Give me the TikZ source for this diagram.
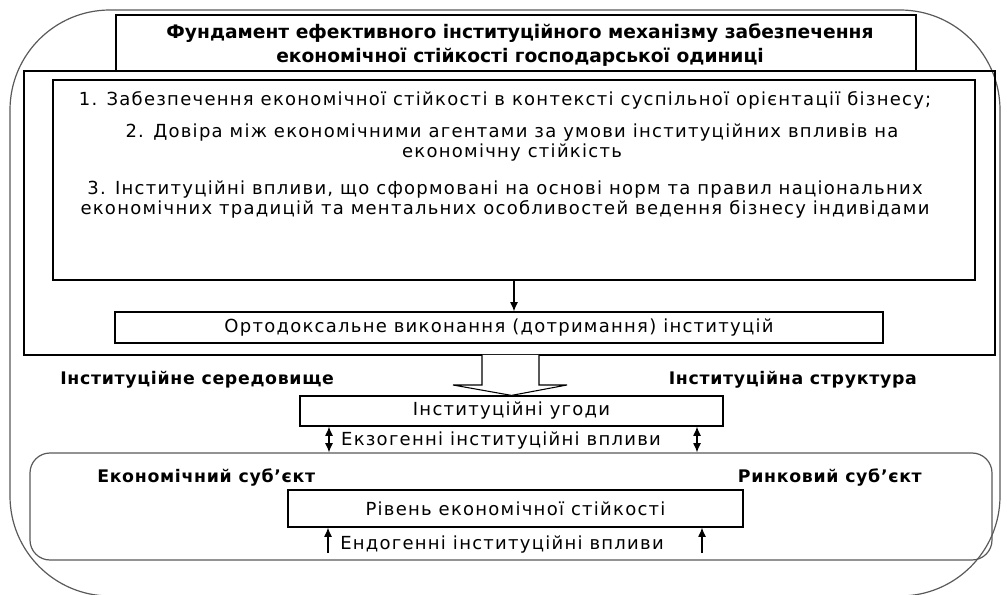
\documentclass[tikz,border=0pt]{standalone}
\usepackage{fontspec}
\setmainfont{DejaVu Sans}
\newfontfamily\spacedfont[LetterSpace=7]{DejaVu Sans}
\newfontfamily\boldspaced[LetterSpace=4]{DejaVu Sans}
\usetikzlibrary{arrows.meta,calc}
\begin{document}
\begin{tikzpicture}[x=0.75pt,y=-0.75pt,
  box/.style={draw=black,line width=0.9pt,inner sep=0pt,align=center},
  bodyf/.style={font=\spacedfont\fontsize{13.5}{15}\selectfont},
  txt/.style={inner sep=0pt,bodyf,align=center},
  lbl/.style={inner sep=0pt,font=\boldspaced\fontsize{13}{14}\selectfont\bfseries},
  arr/.style={line width=0.9pt,-{Latex[length=7pt,width=6pt]}},
  dbl/.style={line width=0.9pt,{Latex[length=7pt,width=6pt]}-{Latex[length=7pt,width=6pt]}},
  grayline/.style={draw=black!65,line width=0.9pt}]
\useasboundingbox (0,0) rectangle (1007,595);
\begin{scope}
\clip (0,0) rectangle (1007,595);
\draw[grayline,rounded corners=75pt] (10,10) rectangle (1000,596);
\end{scope}
% big box
\node[box,line width=1.3pt,minimum width=728.25pt,minimum height=213pt] (big) at (509.5,213) {};
% title box
\node[box,line width=1.1pt,fill=white,minimum width=600pt,minimum height=42pt] (title) at (516,43) {};
\node[inner sep=0pt,align=center,font=\fontsize{14}{18}\selectfont\bfseries] (titletext) at (520,45)
  {Фундамент ефективного інституційного механізму забезпечення\\економічної стійкості господарської одиниці};
% inner list box
\node[box,minimum width=691.5pt,minimum height=150pt] (inner) at (514,180) {};
\node[txt] (it1) at (505,100) {1. Забезпечення економічної стійкості в контексті суспільної орієнтації бізнесу;};
\node[txt] (it2) at (512,143) {2. Довіра між економічними агентами за умови інституційних впливів на\\економічну стійкість};
\node[txt] (it3) at (505,200) {3. Інституційні впливи, що сформовані на основі норм та правил національних\\економічних традицій та ментальних особливостей ведення бізнесу індивідами};
% orthodox box
\node[box,minimum width=576pt,minimum height=23.25pt,bodyf] (orto) at (499,327.5)
  {Ортодоксальне виконання (дотримання) інституцій};
\draw[arr] (inner.south) -- (inner.south |- orto.north);
% institutional agreements box
\node[box,minimum width=317.25pt,minimum height=22.5pt,bodyf] (ugody) at (511.5,411)
  {Інституційні угоди};
% block arrow
\draw[line width=0.8pt,fill=white] (482,355) -- (482,385) -- (453,385) -- (ugody.north) -- (567,385) -- (539,385) -- (539,355);
% labels
\node[lbl,anchor=west] (seredovyshche) at (60,380) {Інституційне середовище};
\node[lbl,anchor=east] (struktura) at (917,380) {Інституційна структура};
% lower rounded box
\node[draw=black!65,line width=0.9pt,rounded corners=15pt,minimum width=721.5pt,minimum height=80.25pt,inner sep=0pt] (lower) at (511,506.5) {};
\coordinate (xL) at (329,0);
\coordinate (xR) at (697,0);
\draw[dbl] (xL |- ugody.south) -- (xL |- lower.north);
\draw[dbl] (xR |- ugody.south) -- (xR |- lower.north);
\node[txt] (ekzo) at (501,441) {Екзогенні інституційні впливи};
\node[lbl,anchor=west] (ekonsub) at (97,478) {Економічний суб’єкт};
\node[lbl,anchor=east] (rynsub) at (922,478) {Ринковий суб’єкт};
% level box
\node[box,minimum width=341.25pt,minimum height=27.75pt,bodyf] (riven) at (515.5,508.5)
  {Рівень економічної стійкості};
\coordinate (uL) at (328,553);
\coordinate (uR) at (702,553);
\draw[arr] (uL) -- (uL |- riven.south);
\draw[arr] (uR) -- (uR |- riven.south);
\node[txt] (endo) at (502,545) {Ендогенні інституційні впливи};
\end{tikzpicture}
\end{document}
